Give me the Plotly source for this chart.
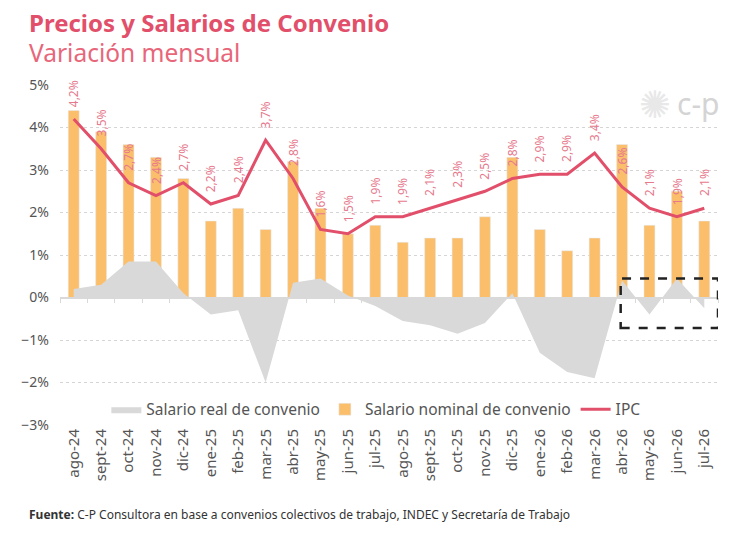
import plotly.graph_objects as go

months = ["ago-24", "sept-24", "oct-24", "nov-24", "dic-24", "ene-25", "feb-25", "mar-25",
          "abr-25", "may-25", "jun-25", "jul-25", "ago-25", "sept-25", "oct-25", "nov-25",
          "dic-25", "ene-26", "feb-26", "mar-26", "abr-26", "may-26", "jun-26", "jul-26"]

# salario nominal de convenio (barras)
nominal = [4.4, 3.9, 3.6, 3.3, 2.8, 1.8, 2.1, 1.6, 3.2, 2.1, 1.5, 1.7,
           1.3, 1.4, 1.4, 1.9, 3.3, 1.6, 1.1, 1.4, 3.6, 1.7, 2.5, 1.8]

# IPC (linea)
ipc = [4.2, 3.5, 2.7, 2.4, 2.7, 2.2, 2.4, 3.7, 2.8, 1.6, 1.5, 1.9,
       1.9, 2.1, 2.3, 2.5, 2.8, 2.9, 2.9, 3.4, 2.6, 2.1, 1.9, 2.1]

# salario real de convenio (area)
real = [0.2, 0.3, 0.85, 0.85, 0.1, -0.4, -0.3, -2.0, 0.35, 0.45, 0.05, -0.2,
        -0.55, -0.65, -0.85, -0.6, 0.1, -1.3, -1.75, -1.9, 0.4, -0.4, 0.45, -0.25]

ytick_vals = [-3, -2, -1, 0, 1, 2, 3, 4, 5]
ytick_text = ["−3%", "−2%", "−1%", "0%", "1%", "2%", "3%", "4%", "5%"]

PINK = "#e24f6a"
LABEL_PINK = "#e6798d"
ORANGE = "#fbbf6c"
GRAY = "#d9d9d9"
TXT = "#555555"
FONT = "Noto Sans"

fig = go.Figure()

fig.add_trace(go.Scatter(x=months, y=real, mode="lines", line=dict(width=0),
                         fill="tozeroy", fillcolor=GRAY, name="Salario real de convenio"))
fig.add_trace(go.Bar(x=months, y=nominal, marker_color=ORANGE, width=0.4,
                     name="Salario nominal de convenio"))
fig.add_trace(go.Scatter(x=months, y=ipc, mode="lines", line=dict(color=PINK, width=3),
                         name="IPC"))
# helper trace for the axis line drawn at 0 with boundary ticks
fig.add_trace(go.Scatter(x=months, y=ipc, xaxis="x2", mode="lines", line=dict(width=0),
                         showlegend=False, hoverinfo="skip"))

# IPC labels
for m, v in zip(months, ipc):
    fig.add_annotation(x=m, y=v, text=f"{v:.1f}%".replace(".", ","), textangle=-90,
                       showarrow=False, yanchor="bottom", yshift=10,
                       font=dict(family=FONT, size=12, color=LABEL_PINK))

# dashed highlight box
fig.add_shape(type="rect", xref="x", yref="y", x0=19.95, x1=23.5, y0=-0.72, y1=0.45,
              line=dict(color="#222222", width=2.5, dash="dash"))

# titles and footer
fig.add_annotation(xref="paper", yref="paper", x=-0.05, y=1.183, xanchor="left", yanchor="middle",
                   text="<b>Precios y Salarios de Convenio</b>", showarrow=False,
                   font=dict(family=FONT, size=24, color=PINK))
fig.add_annotation(xref="paper", yref="paper", x=-0.05, y=1.097, xanchor="left", yanchor="middle",
                   text="Variación mensual", showarrow=False,
                   font=dict(family=FONT, size=24.5, color="#e8667a"))
fig.add_annotation(xref="paper", yref="paper", x=-0.05, y=-0.262, xanchor="left", yanchor="middle",
                   text="<b>Fuente:</b> C-P Consultora en base a convenios colectivos de trabajo, INDEC y Secretaría de Trabajo",
                   showarrow=False, font=dict(family=FONT, size=12, color="#333333"))

# logo
fig.add_annotation(xref="paper", yref="paper", x=0.905, y=0.94, xanchor="center", yanchor="middle",
                   text="✺", showarrow=False,
                   font=dict(family="DejaVu Sans", size=38, color="#e8e8e8"))
fig.add_annotation(xref="paper", yref="paper", x=0.97, y=0.945, xanchor="center", yanchor="middle",
                   text="c-p", showarrow=False,
                   font=dict(family=FONT, size=30, color="#d4d4d4"))

fig.update_layout(
    width=744, height=538,
    margin=dict(l=60, r=26, t=85, b=113),
    plot_bgcolor="white", paper_bgcolor="white",
    font=dict(family=FONT, color=TXT),
    bargap=0.6,
    showlegend=True,
    legend=dict(orientation="h", x=0.48, y=0.045, xanchor="center", yanchor="middle",
                bgcolor="rgba(0,0,0,0)", font=dict(size=15.5, color=TXT), traceorder="normal"),
    xaxis=dict(type="category", categoryorder="array", categoryarray=months,
               range=[-0.5, 23.5], tickangle=-90, tickfont=dict(size=15, color=TXT),
               showgrid=False, showline=False, ticks=""),
    xaxis2=dict(type="category", categoryorder="array", categoryarray=months,
                overlaying="x", anchor="free", position=0.375, range=[-0.5, 23.5],
                showticklabels=False, showline=True, linecolor=GRAY, linewidth=1.5,
                ticks="outside", tickson="boundaries", ticklen=5, tickcolor=GRAY,
                showgrid=False),
    yaxis=dict(range=[-3, 5], tickvals=ytick_vals, ticktext=ytick_text,
               tickfont=dict(size=14, color=TXT), showgrid=True, gridcolor="#d5d5d5",
               griddash="dot", gridwidth=1, zeroline=False, showline=False,
               ticklabelstandoff=10),
)

fig.write_html("out.html", config={"displayModeBar": False},
               post_script="document.body.style.margin='0';")
